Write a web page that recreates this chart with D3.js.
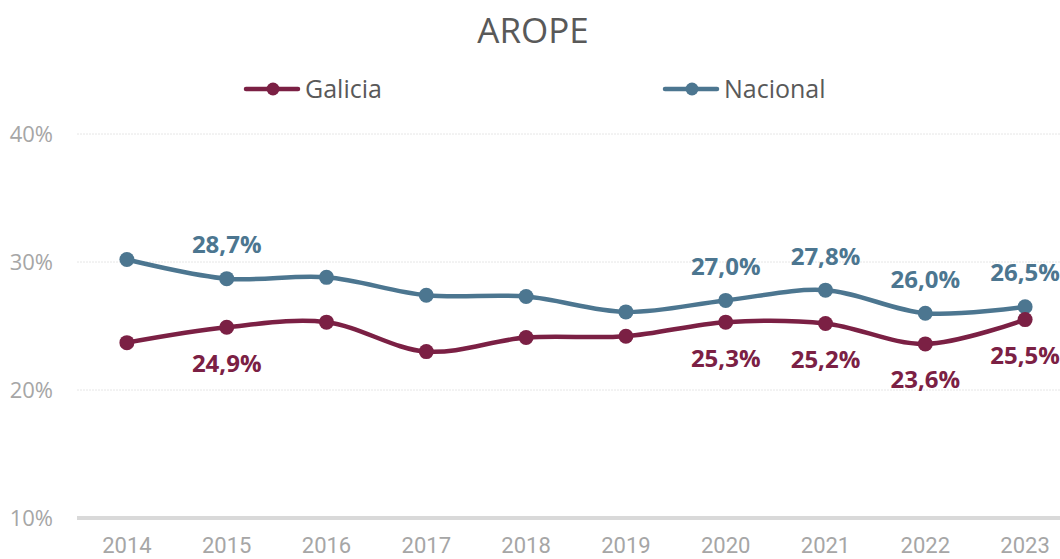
<!DOCTYPE html>
<html>
<head>
<meta charset="utf-8">
<script src="https://cdn.jsdelivr.net/npm/d3@7"></script>
<style>
	body { margin: 0; background: #fff; }
	svg { display: block; font-family: "Open Sans", "Noto Sans", sans-serif; }
</style>
</head>
<body>
<div id="chart"></div>
<script>
const FRAME_HEIGHT = 559;
const FRAME_WIDTH = 1060;
const MARGINS = { left: 77, right: -15, top: 134, bottom: 41 };

const VIS_HEIGHT = FRAME_HEIGHT - MARGINS.top - MARGINS.bottom;
const VIS_WIDTH = FRAME_WIDTH - MARGINS.left - MARGINS.right;

// data
const YEARS = ["2014", "2015", "2016", "2017", "2018", "2019", "2020", "2021", "2022", "2023"];
const GALICIA = [23.7, 24.9, 25.3, 23.0, 24.1, 24.2, 25.3, 25.2, 23.6, 25.5];
const NACIONAL = [30.2, 28.7, 28.8, 27.4, 27.3, 26.1, 27.0, 27.8, 26.0, 26.5];
const Y_TICKS = [10, 20, 30, 40];
// which points get a value label
const LABELED = ["2015", "2020", "2021", "2022", "2023"];

const FRAME = d3.select("#chart")
	.append("svg")
	.attr("height", FRAME_HEIGHT)
	.attr("width", FRAME_WIDTH);

const X_SCALE = d3.scaleBand()
	.domain(YEARS)
	.range([MARGINS.left, MARGINS.left + VIS_WIDTH]);

const Y_SCALE = d3.scaleLinear()
	.domain([10, 40])
	.range([MARGINS.top + VIS_HEIGHT, MARGINS.top]);

const xc = (d) => X_SCALE(d) + X_SCALE.bandwidth() / 2;

// gridlines
FRAME.append("g")
	.selectAll("line")
	.data(Y_TICKS.filter(t => t > 10))
	.enter()
	.append("line")
	.attr("x1", MARGINS.left)
	.attr("x2", FRAME_WIDTH)
	.attr("y1", d => Y_SCALE(d))
	.attr("y2", d => Y_SCALE(d))
	.attr("stroke", "#e6e6e6")
	.attr("stroke-dasharray", "2,1")
	.attr("stroke-width", 1);

// y axis labels
const Y_AXIS = d3.axisLeft(Y_SCALE)
	.tickValues(Y_TICKS)
	.tickFormat(d => d + "%")
	.tickSize(0)
	.tickPadding(24);

FRAME.append("g")
	.attr("transform", `translate(${MARGINS.left}, 0)`)
	.call(Y_AXIS)
	.call(g => g.select(".domain").remove())
	.call(g => g.selectAll("text")
		.attr("fill", "#a6a6a6")
		.style("font-size", "22px")
		.style("font-family", "'Open Sans', sans-serif"));

// x axis
const X_AXIS = d3.axisBottom(X_SCALE).tickSize(0).tickPadding(19);

FRAME.append("g")
	.attr("transform", `translate(0, ${Y_SCALE(10)})`)
	.call(X_AXIS)
	.call(g => g.select(".domain").remove())
	.call(g => g.selectAll("text")
		.attr("fill", "#a6a6a6")
		.style("font-size", "22px")
		.style("font-family", "'Liberation Sans Narrow', 'Roboto', sans-serif"));

FRAME.append("line")
	.attr("x1", MARGINS.left)
	.attr("x2", FRAME_WIDTH)
	.attr("y1", Y_SCALE(10))
	.attr("y2", Y_SCALE(10))
	.attr("stroke", "#d9d9d9")
	.attr("stroke-width", 4);

// series
const SERIES = [
	{ name: "Galicia", values: GALICIA, color: "#7b2044", dy: 36 },
	{ name: "Nacional", values: NACIONAL, color: "#4c7690", dy: -34 }
];

const LINE = d3.line()
	.x((d, i) => xc(YEARS[i]))
	.y(d => Y_SCALE(d))
	.curve(d3.curveCatmullRom.alpha(0.5));

SERIES.slice().reverse().forEach(s => {
	FRAME.append("path")
		.datum(s.values)
		.attr("d", LINE)
		.attr("fill", "none")
		.attr("stroke", s.color)
		.attr("stroke-width", 4.5)
		.attr("stroke-linecap", "round");

	FRAME.append("g")
		.selectAll("circle")
		.data(s.values)
		.enter()
		.append("circle")
		.attr("cx", (d, i) => xc(YEARS[i]))
		.attr("cy", d => Y_SCALE(d))
		.attr("r", 7.5)
		.attr("fill", s.color);
});

// value labels
SERIES.forEach(s => {
	FRAME.append("g")
		.selectAll("text")
		.data(s.values.map((v, i) => ({ year: YEARS[i], v: v })).filter(d => LABELED.includes(d.year)))
		.enter()
		.append("text")
		.attr("x", d => xc(d.year))
		.attr("y", d => Y_SCALE(d.v) + s.dy)
		.attr("dy", "0.35em")
		.attr("text-anchor", "middle")
		.attr("fill", s.color)
		.style("font-size", "24px")
		.style("font-weight", "bold")
		.text(d => d.v.toFixed(1).replace(".", ",") + "%");
});

// title
FRAME.append("text")
	.attr("x", 533)
	.attr("y", 31)
	.attr("dy", "0.35em")
	.attr("text-anchor", "middle")
	.attr("fill", "#595959")
	.style("font-size", "35px")
	.text("AROPE");

// legend
const LEGEND_X = [246, 665];
SERIES.forEach((s, i) => {
	const g = FRAME.append("g").attr("transform", `translate(${LEGEND_X[i]}, 89)`);
	g.append("line")
		.attr("x1", 0).attr("x2", 52)
		.attr("stroke", s.color)
		.attr("stroke-width", 4.5)
		.attr("stroke-linecap", "round");
	g.append("circle").attr("cx", 27).attr("r", 6.5).attr("fill", s.color);
	g.append("text")
		.attr("x", 59)
		.attr("dy", "0.35em")
		.attr("fill", "#595959")
		.style("font-size", "25px")
		.text(s.name);
});
</script>
</body>
</html>
